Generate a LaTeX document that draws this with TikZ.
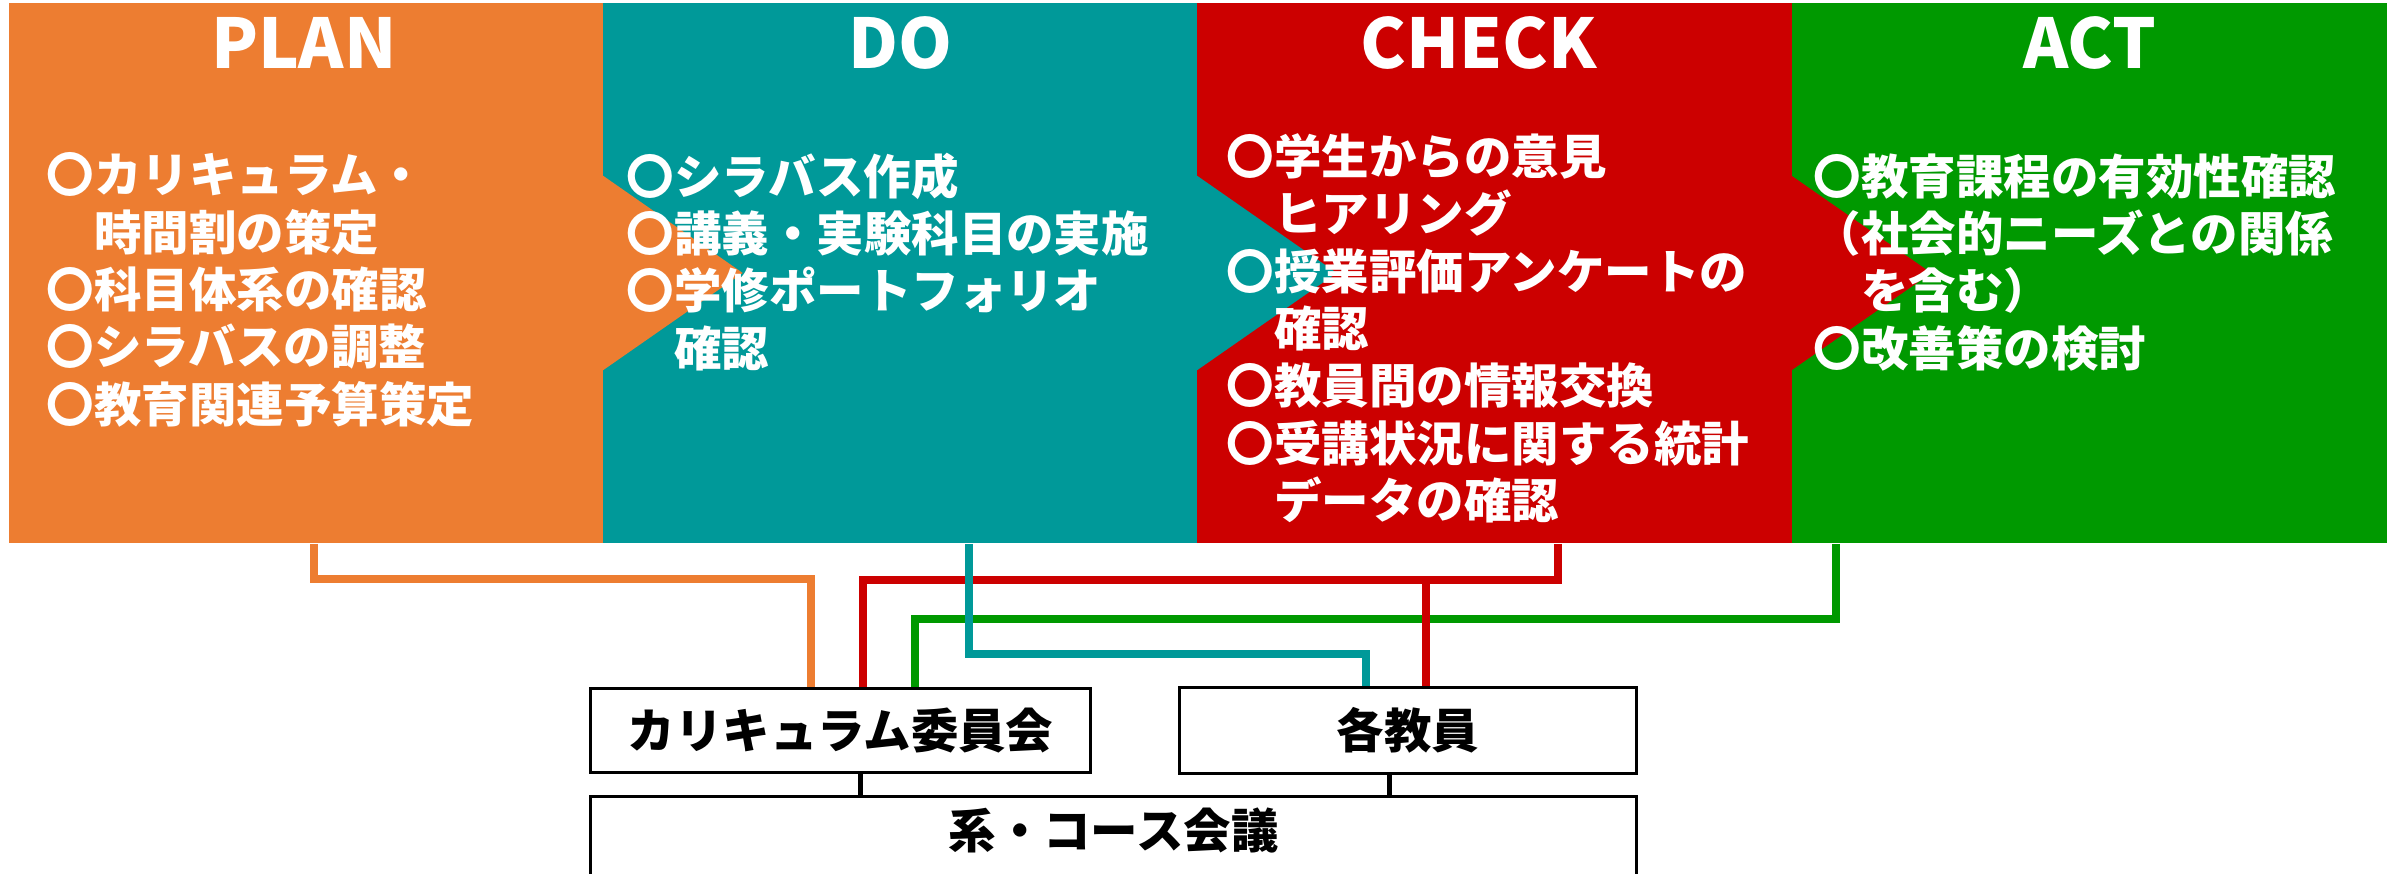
\documentclass[tikz,border=0pt]{standalone}
\usepackage{fontspec}
\setmainfont{Noto Sans CJK JP}
\usepackage{xcolor}
\definecolor{planorange}{RGB}{237,125,49}
\definecolor{doteal}{RGB}{0,153,153}
\definecolor{checkred}{RGB}{204,0,0}
\definecolor{actgreen}{RGB}{0,153,0}
\usepackage{tikz}
\tikzstyle{phase} = [rectangle, inner sep=0pt,
  minimum width=5.95cm, minimum height=5.40cm]
\tikzstyle{heading} = [text=white, anchor=base,
  font=\fontsize{19.5}{19.5}\selectfont\bfseries]
\tikzstyle{items} = [text=white, anchor=north west, align=left, inner sep=0pt,
  font=\fontsize{13.5}{16.3}\selectfont\bfseries]
\tikzstyle{body} = [rectangle, draw, line width=0.03cm, inner sep=0pt,
  font=\fontsize{13.5}{16.3}\selectfont\bfseries]
\tikzstyle{link} = [line width=0.08cm]

\begin{document}
\begin{tikzpicture}[x=0.01cm, y=-0.01cm]
  \clip (0,0) rectangle (2395, 874);

  \node[phase, fill=planorange] (plan) at (306.5, 273) {};
  \node[phase, fill=doteal] (do) at (901, 273) {};
  \node[phase, fill=checkred] (check) at (1495, 273) {};
  \node[phase, fill=actgreen] (act) at (2089.5, 273) {};

  % notches
  \fill[planorange] ([yshift=0.975cm]do.west) -- ([xshift=1.4cm]do.west) -- ([yshift=-0.975cm]do.west) -- cycle;
  \fill[doteal] ([yshift=0.975cm]check.west) -- ([xshift=1.4cm]check.west) -- ([yshift=-0.975cm]check.west) -- cycle;
  \fill[checkred] ([yshift=0.975cm]act.west) -- ([xshift=1.4cm]act.west) -- ([yshift=-0.975cm]act.west) -- cycle;

  \node[heading] (plantitle) at (304, 69) {PLAN};
  \node[heading] (dotitle) at (900, 69) {DO};
  \node[heading] (checktitle) at (1479, 69) {CHECK};
  \node[heading] (acttitle) at (2090, 69) {ACT};

  \node[items] (planlist) at (46, 152) {〇カリキュラム・\\　時間割の策定\\〇科目体系の確認\\〇シラバスの調整\\〇教育関連予算策定};
  \node[items] (dolist) at (626, 152) {〇シラバス作成\\〇講義・実験科目の実施\\〇学修ポートフォリオ\\　確認};
  \node[items] (checklist) at (1226, 133) {〇学生からの意見\\　ヒアリング\\〇授業評価アンケートの\\　確認\\〇教員間の情報交換\\〇受講状況に関する統計\\　データの確認};
  \node[items] (actlist) at (1813, 153) {〇教育課程の有効性確認\\（社会的ニーズとの関係\\　を含む）\\〇改善策の検討};

  \node[body, minimum width=4.99cm, minimum height=0.83cm] (committee) at (840.5, 730.5) {カリキュラム委員会};
  \node[body, minimum width=4.56cm, minimum height=0.85cm] (staff) at (1408, 730.5) {各教員};
  \node[body, anchor=north, minimum width=10.45cm, text height=0.52cm, text depth=0.5cm] (council) at (1113.5, 795) {系・コース会議};

  \coordinate (staffred) at ([xshift=0.18cm]staff.north);

  \draw[link, planorange] ([xshift=0.07cm]plan.south) -- ++(0,35) -| ([xshift=-0.295cm]committee.north);
  \draw[link, actgreen] ([xshift=-2.535cm]act.south) -- ++(0,75) -| ([xshift=0.745cm]committee.north);
  \draw[link, checkred] ([xshift=0.63cm]check.south) -- ++(0,36) coordinate (redjoint) -| ([xshift=0.225cm]committee.north);
  \draw[link, checkred] (staffred |- redjoint) -- (staffred);
  \draw[link, doteal] ([xshift=0.68cm]do.south) -- ++(0,110) -| ([xshift=-0.42cm]staff.north);

  \draw[line width=0.05cm] ([xshift=0.195cm]committee.south) -- ([xshift=0.195cm]committee.south |- council.north);
  \draw[line width=0.05cm] ([xshift=-0.19cm]staff.south) -- ([xshift=-0.19cm]staff.south |- council.north);
\end{tikzpicture}
\end{document}
